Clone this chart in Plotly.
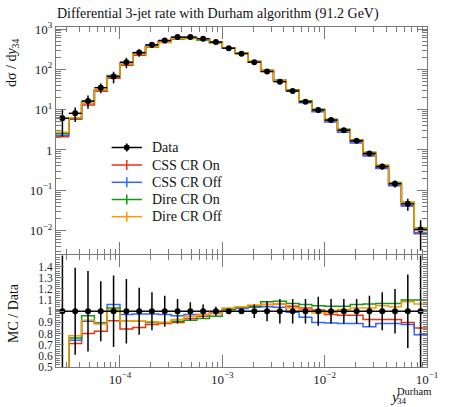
import math
import plotly.graph_objects as go

# ---------------- data ----------------
bin_edges = [2.371e-5, 3.162e-5, 4.217e-5, 5.623e-5, 7.499e-5, 1.000e-4,
             1.334e-4, 1.778e-4, 2.371e-4, 3.162e-4, 4.217e-4, 5.623e-4,
             7.499e-4, 1.000e-3, 1.334e-3, 1.778e-3, 2.371e-3, 3.162e-3,
             4.217e-3, 5.623e-3, 7.499e-3, 1.000e-2, 1.334e-2, 1.778e-2,
             2.371e-2, 3.162e-2, 4.217e-2, 5.623e-2, 7.499e-2, 1.000e-1]

data_values = [6.1, 8.1, 16.4, 35, 66, 150, 260, 405, 520, 630, 630, 575,
               475, 335, 245, 150, 88, 49.5, 29, 15.7, 9.8, 5.5, 3.1, 1.68,
               0.82, 0.39, 0.146, 0.046, 0.0106]

data_rel_err = [0.65, 0.39, 0.36, 0.27, 0.32, 0.29, 0.21, 0.17, 0.14, 0.11,
                0.08, 0.06, 0.04, 0.02, 0.02, 0.06, 0.09, 0.11, 0.11, 0.11,
                0.13, 0.11, 0.11, 0.11, 0.14, 0.17, 0.20, 0.33, 0.70]

ratio_css_on = [0.35, 0.71, 0.80, 0.82, 0.915, 0.84, 0.855, 0.88, 0.89, 0.90,
                0.935, 0.955, 0.98, 1.015, 1.03, 1.05, 1.06, 1.065, 1.045,
                1.03, 1.01, 0.97, 0.965, 0.965, 0.925, 0.925, 0.925, 0.90, 0.85]
ratio_css_off = [0.38, 0.74, 0.91, 0.895, 1.06, 0.97, 0.975, 0.975, 0.97, 0.96,
                 0.97, 0.97, 0.985, 1.015, 1.025, 1.035, 1.04, 1.035, 0.99,
                 0.945, 0.90, 0.895, 0.89, 0.89, 0.86, 0.89, 0.89, 0.88, 0.79]
ratio_dire_on = [0.42, 0.76, 0.96, 0.895, 1.03, 0.915, 0.91, 0.90, 0.90, 0.91,
                 0.92, 0.935, 0.955, 1.02, 1.035, 1.045, 1.085, 1.09, 1.07,
                 1.06, 1.05, 1.045, 1.045, 1.06, 1.065, 1.07, 1.07, 1.10, 1.10]
ratio_dire_off = [0.45, 0.78, 0.92, 0.885, 1.01, 0.915, 0.91, 0.905, 0.90, 0.925,
                  0.955, 0.97, 0.98, 1.03, 1.04, 1.055, 1.06, 1.065, 1.03,
                  1.015, 0.985, 0.99, 1.015, 1.03, 1.03, 1.05, 1.04, 1.085, 1.065]

series_names = ["CSS CR On", "CSS CR Off", "Dire CR On", "Dire CR Off"]
series_colors = ["#EE3311", "#3366FF", "#109618", "#FF9900"]
series_ratios = [ratio_css_on, ratio_css_off, ratio_dire_on, ratio_dire_off]

x_tickvals = [1e-4, 1e-3, 1e-2, 1e-1]
x_ticktext = ["10<sup>−4</sup>", "10<sup>−3</sup>", "10<sup>−2</sup>", "10<sup>−1</sup>"]
y_tickvals = [1e-2, 1e-1, 1, 10, 100, 1000]
y_ticktext = ["10<sup>−2</sup>", "10<sup>−1</sup>", "1", "10<sup>1</sup>",
              "10<sup>2</sup>", "10<sup>3</sup>"]
r_tickvals = [0.5, 0.6, 0.7, 0.8, 0.9, 1.0, 1.1, 1.2, 1.3, 1.4]
r_ticktext = ["0.5", "0.6", "0.7", "0.8", "0.9", "1", "1.1", "1.2", "1.3", "1.4"]

title_text = "Differential 3-jet rate with Durham algorithm (91.2 GeV)"

# ---------------- layout helpers ----------------
W, H = 450, 407
L, R, T, B = 56, 14, 27, 40
PW, PH = W - L - R, H - T - B
FONT = "Liberation Serif"
FRAME = "#7a7a7a"


def px(x):
    return (x - L) / PW


def py(y):
    return (H - B - y) / PH


centers = [math.sqrt(a * b) for a, b in zip(bin_edges[:-1], bin_edges[1:])]
ex_plus = [b - c for b, c in zip(bin_edges[1:], centers)]
ex_minus = [c - a for a, c in zip(bin_edges[:-1], centers)]

fig = go.Figure()

for name, color, ratios in zip(series_names, series_colors, series_ratios):
    mc = [d * r for d, r in zip(data_values, ratios)]
    fig.add_trace(go.Scatter(
        x=bin_edges, y=mc + [mc[-1]], mode="lines", name=name,
        line=dict(color=color, width=1.5, shape="hv"),
        xaxis="x", yaxis="y", showlegend=False, hoverinfo="skip"))
    fig.add_trace(go.Scatter(
        x=bin_edges, y=list(ratios) + [ratios[-1]], mode="lines", name=name,
        line=dict(color=color, width=1.5, shape="hv"),
        xaxis="x2", yaxis="y2", showlegend=False, hoverinfo="skip"))

fig.add_trace(go.Scatter(
    x=centers, y=data_values, mode="markers", name="Data",
    marker=dict(color="black", size=6),
    error_x=dict(type="data", array=ex_plus, arrayminus=ex_minus,
                 color="black", thickness=1.5, width=0),
    error_y=dict(type="data", array=[v * e for v, e in zip(data_values, data_rel_err)],
                 color="black", thickness=1.5, width=0),
    xaxis="x", yaxis="y", showlegend=False))

fig.add_trace(go.Scatter(
    x=centers, y=[1.0] * len(centers), mode="markers", name="Data",
    marker=dict(color="black", size=6),
    error_x=dict(type="data", array=ex_plus, arrayminus=ex_minus,
                 color="black", thickness=1.5, width=0),
    error_y=dict(type="data", array=data_rel_err,
                 color="black", thickness=1.5, width=0),
    xaxis="x2", yaxis="y2", showlegend=False))

xrange_log = [math.log10(bin_edges[0]), math.log10(bin_edges[-1])]

common_axis = dict(showline=True, linecolor=FRAME, linewidth=1, mirror="ticks",
                   ticks="inside", tickcolor=FRAME, showgrid=False, zeroline=False)
tf13 = dict(family=FONT, size=13, color="#222")
tf11 = dict(family=FONT, size=11.5, color="#222")

fig.update_layout(
    width=W, height=H, margin=dict(l=L, r=R, t=T, b=B),
    paper_bgcolor="white", plot_bgcolor="white",
    font=dict(family=FONT, color="#111"),
    title=dict(text=title_text, x=57 / W, xref="container", xanchor="left",
               y=1 - 13 / H, yanchor="middle", font=dict(family=FONT, size=14, color="#111")),
    xaxis=dict(type="log", range=xrange_log, domain=[0, 1], anchor="y",
               tickmode="array", tickvals=x_tickvals, showticklabels=False, ticklen=12,
               minor=dict(ticks="inside", ticklen=5, tickcolor=FRAME, dtick="D1", showgrid=False),
               tickfont=tf13, **common_axis),
    yaxis=dict(type="log", range=[-2.584, 3.05], domain=[0.332, 1], anchor="x",
               tickmode="array", tickvals=y_tickvals, ticktext=y_ticktext, ticklen=10,
               minor=dict(ticks="inside", ticklen=5, tickcolor=FRAME, dtick="D1", showgrid=False),
               tickfont=tf13, **common_axis),
    xaxis2=dict(type="log", range=xrange_log, domain=[0, 1], anchor="y2", matches="x",
                tickmode="array", tickvals=x_tickvals, ticktext=x_ticktext, ticklen=12,
                minor=dict(ticks="inside", ticklen=5, tickcolor=FRAME, dtick="D1", showgrid=False),
                tickfont=tf13, **common_axis),
    yaxis2=dict(range=[0.5, 1.5], domain=[0, 0.328], anchor="x2",
                tickmode="array", tickvals=r_tickvals, ticktext=r_ticktext, ticklen=8,
                minor=dict(ticks="inside", ticklen=4, tickcolor=FRAME, dtick=0.02, showgrid=False),
                tickfont=tf11, **common_axis),
)

annotations = [
    dict(text="dσ / d<i>y</i><sub>34</sub>", x=px(12), y=py(63), textangle=-90,
         font=dict(family=FONT, size=14, color="#111")),
    dict(text="MC / Data", x=px(12), y=py(313), textangle=-90,
         font=dict(family=FONT, size=14, color="#111")),
    dict(text="<i>y</i>", x=px(397), y=py(397), xanchor="left", borderpad=0,
         font=dict(family=FONT, size=15, color="#111")),
    dict(text="34", x=px(404), y=py(400.5), xanchor="left", borderpad=0,
         font=dict(family=FONT, size=9, color="#111")),
    dict(text="Durham", x=px(404.5), y=py(391.5), xanchor="left", borderpad=0,
         font=dict(family=FONT, size=10.5, color="#111")),
]
shapes = []

# manual legend key
leg_rows = [147.5, 165, 182.3, 199.5, 216.7]
leg_labels = ["Data"] + series_names
leg_colors = ["black"] + series_colors
for i, (lab, col, yy) in enumerate(zip(leg_labels, leg_colors, leg_rows)):
    shapes.append(dict(type="line", xref="paper", yref="paper",
                       x0=px(113), x1=px(144), y0=py(yy), y1=py(yy),
                       line=dict(color=col, width=1.5)))
    if i == 0:
        shapes.append(dict(type="circle", xref="paper", yref="paper",
                           x0=px(125.5), x1=px(131.5), y0=py(yy + 3), y1=py(yy - 3),
                           fillcolor="black", line=dict(color="black", width=0)))
        shapes.append(dict(type="line", xref="paper", yref="paper",
                           x0=px(128.5), x1=px(128.5), y0=py(yy + 4), y1=py(yy - 4),
                           line=dict(color=col, width=1.5)))
    else:
        shapes.append(dict(type="line", xref="paper", yref="paper",
                           x0=px(128.5), x1=px(128.5), y0=py(yy + 5), y1=py(yy - 5),
                           line=dict(color=col, width=1.5)))
    annotations.append(dict(text=lab, x=px(152), y=py(yy), xanchor="left", yanchor="middle",
                            font=dict(family=FONT, size=14, color="#111")))

for a in annotations:
    a.setdefault("xref", "paper")
    a.setdefault("yref", "paper")
    a.setdefault("showarrow", False)
    a.setdefault("xanchor", "center")
    a.setdefault("yanchor", "middle")

fig.update_layout(annotations=annotations, shapes=shapes)
fig.write_html("out.html", config={"displayModeBar": False},
               post_script="document.body.style.margin='0';")
